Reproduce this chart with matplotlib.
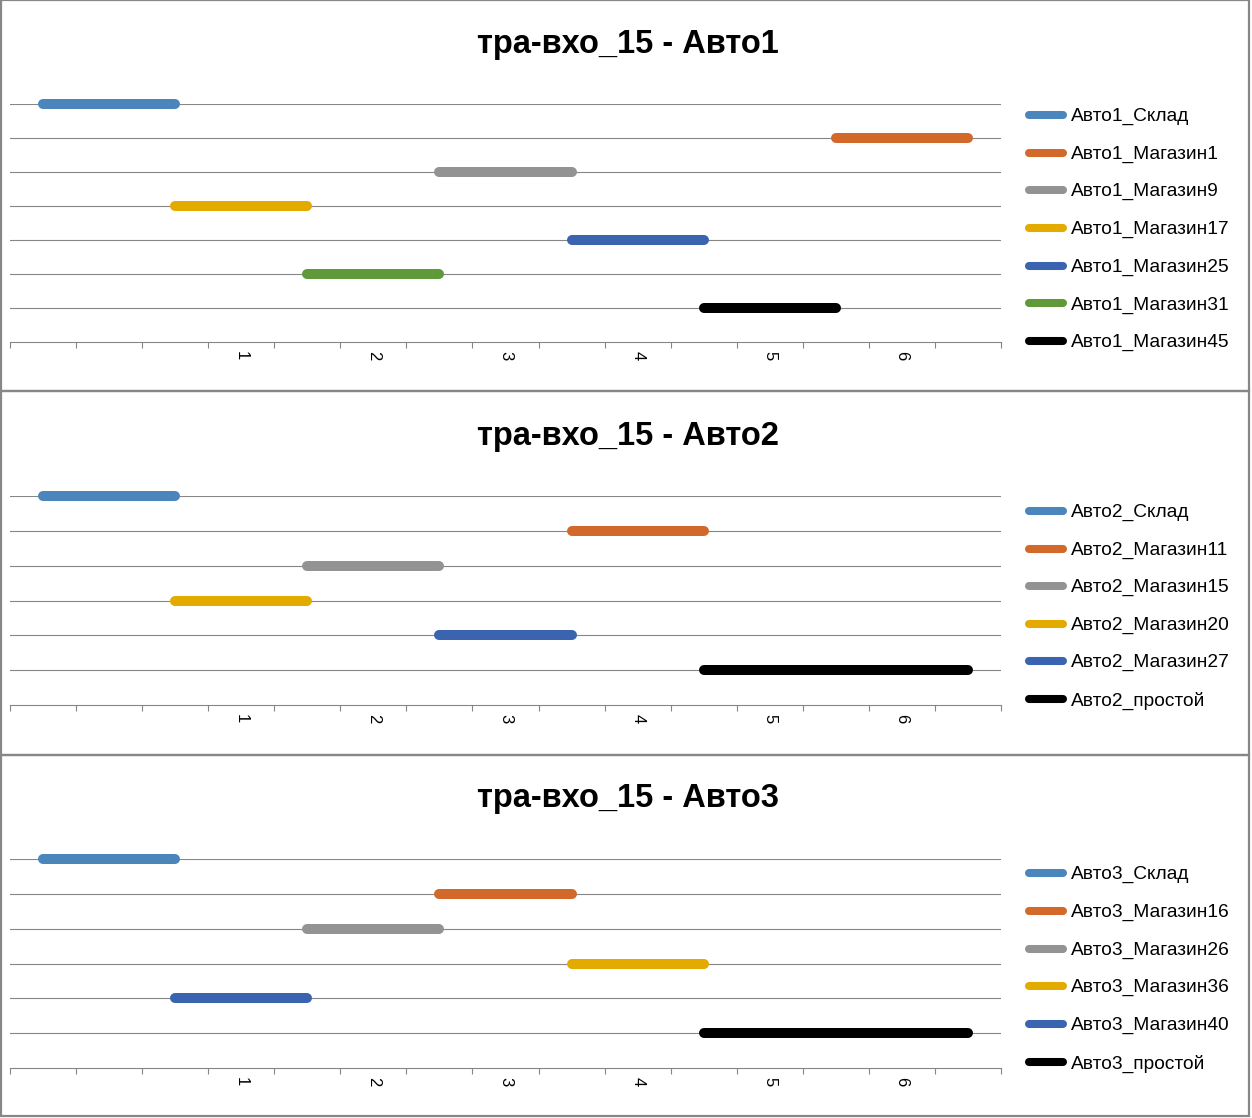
import matplotlib
matplotlib.use("Agg")
import matplotlib.pyplot as plt
from matplotlib.lines import Line2D
from matplotlib.patches import Rectangle

plt.rcParams['font.family'] = ['Liberation Sans', 'DejaVu Sans']

W, H = 1252, 1118
DPI = 100

# ---------------- data ----------------
n_categories = 15
category_labels = ["", "", "", "1", "", "2", "", "3", "", "4", "", "5", "", "6", ""]

titles = ["тра-вхо_15 - Авто1", "тра-вхо_15 - Авто2", "тра-вхо_15 - Авто3"]

names1 = ["Авто1_Склад", "Авто1_Магазин1", "Авто1_Магазин9", "Авто1_Магазин17",
          "Авто1_Магазин25", "Авто1_Магазин31", "Авто1_Магазин45"]
starts1 = [0, 12, 6, 2, 8, 4, 10]
ends1 = [2, 14, 8, 4, 10, 6, 12]
rows1 = [7, 6, 5, 4, 3, 2, 1]

names2 = ["Авто2_Склад", "Авто2_Магазин11", "Авто2_Магазин15", "Авто2_Магазин20",
          "Авто2_Магазин27", "Авто2_простой"]
starts2 = [0, 8, 4, 2, 6, 10]
ends2 = [2, 10, 6, 4, 8, 14]
rows2 = [6, 5, 4, 3, 2, 1]

names3 = ["Авто3_Склад", "Авто3_Магазин16", "Авто3_Магазин26", "Авто3_Магазин36",
          "Авто3_Магазин40", "Авто3_простой"]
starts3 = [0, 6, 4, 8, 2, 10]
ends3 = [2, 8, 6, 10, 4, 14]
rows3 = [6, 5, 4, 3, 2, 1]

colors1 = ["#4A86BC", "#D2692A", "#939393", "#E3AA00", "#3A64B0", "#5F993A", "#000000"]
colors2 = ["#4A86BC", "#D2692A", "#939393", "#E3AA00", "#3A64B0", "#000000"]
colors3 = ["#4A86BC", "#D2692A", "#939393", "#E3AA00", "#3A64B0", "#000000"]

# ---------------- layout (pixels) ----------------
panels = [
    dict(box=(0, 391), plot=(104, 342), title_y=45, leg_y0=116.5, leg_dy=37.7,
         names=names1, starts=starts1, ends=ends1, rows=rows1, colors=colors1),
    dict(box=(391, 755), plot=(496, 705), title_y=436, leg_y0=512.5, leg_dy=37.6,
         names=names2, starts=starts2, ends=ends2, rows=rows2, colors=colors2),
    dict(box=(755, 1116), plot=(859, 1068), title_y=799, leg_y0=874.5, leg_dy=37.8,
         names=names3, starts=starts3, ends=ends3, rows=rows3, colors=colors3),
]
PX0, PX1 = 10, 1001
GRID = "#868686"
BORDER = "#878787"

fig = plt.figure(figsize=(W / DPI, H / DPI), dpi=DPI)
fig.patch.set_facecolor("white")


def fx(x):
    return x / W


def fy(y):
    return 1 - y / H


for i, p in enumerate(panels):
    b0, b1 = p["box"]
    # panel border
    fig.patches.append(Rectangle((fx(1), fy(b1)), fx(1249 - 1), (b1 - b0) / H,
                                 transform=fig.transFigure, fill=False,
                                 edgecolor=BORDER, linewidth=1.6, zorder=0))
    t0, t1 = p["plot"]
    ax = fig.add_axes([fx(PX0), fy(t1), fx(PX1 - PX0), (t1 - t0) / H])
    ax.set_facecolor("none")
    ax.set_xlim(-0.5, n_categories - 0.5)
    ax.set_ylim(0, max(p["rows"]))
    for s, e, r, c in zip(p["starts"], p["ends"], p["rows"], p["colors"]):
        ax.plot([s, (s + e) / 2, e], [r, r, r], color=c, linewidth=7.2,
                solid_capstyle="round", clip_on=False, zorder=3)
    ax.set_yticks(range(1, max(p["rows"]) + 1))
    ax.yaxis.grid(True, color=GRID, linewidth=0.8)
    ax.tick_params(axis="y", length=0, labelleft=False)
    for side in ["left", "right", "top"]:
        ax.spines[side].set_visible(False)
    ax.spines["bottom"].set_color(GRID)
    ax.spines["bottom"].set_linewidth(0.8)
    ax.set_xticks([k - 0.5 for k in range(n_categories + 1)])
    ax.set_xticklabels([])
    ax.tick_params(axis="x", which="major", direction="out", length=4.5,
                   width=0.8, color=GRID)
    ax.set_xticks(range(n_categories), minor=True)
    ax.set_xticklabels(category_labels, minor=True, rotation=-90,
                       fontsize=12, color="#000000")
    ax.tick_params(axis="x", which="minor", length=0, pad=6.5)
    ax.set_axisbelow(True)

    fig.text(fx(628), fy(p["title_y"]), titles[i], ha="center", va="center",
             fontsize=23.5, fontweight="bold", color="#000000")

    for j, (name, c) in enumerate(zip(p["names"], p["colors"])):
        yy = p["leg_y0"] + j * p["leg_dy"]
        fig.lines.append(Line2D([fx(1029), fx(1063)], [fy(yy - 1.5), fy(yy - 1.5)],
                                transform=fig.transFigure, color=c,
                                linewidth=5.8, solid_capstyle="round"))
        fig.text(fx(1071), fy(yy), name, ha="left", va="center",
                 fontsize=13.8, color="#000000")

fig.savefig("out.png", dpi=DPI, facecolor="white")
